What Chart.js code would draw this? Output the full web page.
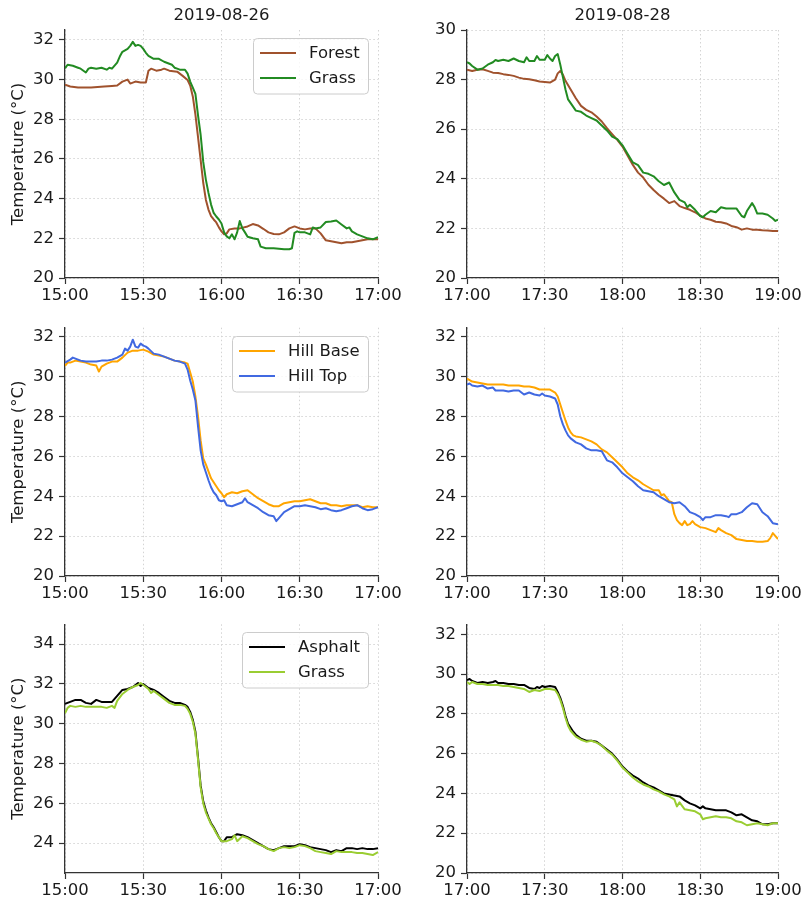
<!DOCTYPE html>
<html><head><meta charset="utf-8">
<script src="https://cdn.jsdelivr.net/npm/chart.js@4.4.0/dist/chart.umd.min.js"></script>
<style>
html,body{margin:0;padding:0;background:#fff;}
#wrap{position:relative;width:803px;height:901px;overflow:hidden;background:#fff;}
#wrap canvas{position:absolute;}
</style></head><body><div id="wrap"></div>
<script>
// ---- tick labels ----
const xTicks26 = ['15:00','15:30','16:00','16:30','17:00'];
const xTicks28 = ['17:00','17:30','18:00','18:30','19:00'];
const yTicksA = [20,22,24,26,28,30,32];
const yTicksB = [20,22,24,26,28,30];
const yTicksC = [24,26,28,30,32,34];
const titles = ['2019-08-26','2019-08-28'];

// ---- series: [minutes after start, °C] ----
const forest26 = [[0,29.74],[2,29.65],[5,29.6],[10,29.6],[15,29.65],[18,29.68],[20,29.7],[22,29.9],[24,30.0],[25,29.8],[27,29.9],[29,29.85],[31,29.85],[32,30.45],[33,30.55],[35,30.45],[37,30.5],[38,30.55],[40,30.45],[43,30.4],[45,30.2],[47,29.98],[48,29.7],[49,29.15],[50,28.23],[51,27.1],[52,25.95],[53,24.8],[54,23.95],[55,23.45],[56,23.12],[57,22.95],[58,22.8],[59,22.55],[60,22.35],[61,22.2],[62,22.25],[63,22.45],[65,22.5],[67,22.5],[70,22.6],[72,22.72],[74,22.65],[76,22.48],[78,22.3],[80,22.22],[82,22.2],[84,22.3],[86,22.5],[88,22.6],[90,22.5],[92,22.45],[94,22.5],[96,22.5],[98,22.25],[100,21.9],[102,21.85],[104,21.8],[106,21.75],[108,21.8],[110,21.8],[112,21.85],[114,21.9],[116,21.95],[118,21.95],[120,21.95]];
const grass26 = [[0,30.57],[1,30.75],[3,30.7],[5,30.6],[6,30.55],[8,30.36],[9,30.55],[10,30.6],[12,30.55],[14,30.6],[16,30.5],[17,30.6],[18,30.55],[20,30.86],[21,31.16],[22,31.4],[24,31.55],[25,31.7],[26,31.9],[27,31.7],[28,31.75],[29,31.7],[30,31.55],[31,31.35],[32,31.2],[34,31.05],[36,31.05],[38,30.9],[40,30.8],[41,30.75],[42,30.6],[43,30.55],[44,30.5],[46,30.5],[47,30.3],[48,29.9],[49,29.6],[50,29.28],[51,28.2],[52,27.22],[53,25.85],[54,24.96],[55,24.29],[56,23.7],[57,23.28],[58,23.1],[59,22.95],[60,22.75],[61,22.3],[62,22.1],[63,22.0],[64,22.2],[65,21.95],[66,22.3],[67,22.87],[68,22.5],[69,22.3],[70,22.08],[72,22.0],[74,21.95],[75,21.58],[77,21.5],[80,21.5],[84,21.45],[86,21.45],[87,21.5],[88,22.28],[89,22.35],[90,22.3],[92,22.3],[94,22.2],[95,22.55],[96,22.5],[98,22.55],[100,22.82],[102,22.85],[104,22.9],[106,22.7],[108,22.5],[109,22.55],[110,22.35],[112,22.2],[114,22.1],[116,22.0],[118,21.95],[120,22.06]];
const forest28 = [[0,28.4],[2,28.35],[4,28.4],[6,28.42],[8,28.35],[10,28.28],[12,28.27],[14,28.22],[16,28.19],[18,28.15],[20,28.08],[22,28.03],[24,28.01],[26,27.97],[28,27.92],[30,27.9],[32,27.88],[34,28.0],[35,28.25],[36,28.35],[37,28.2],[38,27.95],[40,27.6],[42,27.25],[44,26.94],[46,26.78],[48,26.68],[50,26.51],[52,26.31],[54,26.04],[56,25.8],[58,25.57],[60,25.3],[62,24.93],[64,24.56],[66,24.25],[68,24.05],[70,23.76],[72,23.55],[74,23.36],[76,23.2],[78,23.02],[80,23.1],[82,22.9],[84,22.82],[86,22.75],[88,22.65],[90,22.51],[92,22.4],[94,22.35],[96,22.27],[98,22.25],[100,22.2],[102,22.1],[104,22.05],[106,21.95],[108,22.0],[110,21.95],[112,21.95],[114,21.93],[116,21.92],[118,21.9],[120,21.9]];
const grass28 = [[0,28.7],[1,28.65],[2,28.55],[4,28.4],[6,28.45],[8,28.6],[10,28.7],[11,28.79],[12,28.75],[14,28.8],[16,28.75],[18,28.85],[20,28.75],[22,28.7],[23,28.9],[24,28.75],[26,28.75],[27,28.95],[28,28.8],[30,28.8],[31,28.99],[32,28.85],[33,28.75],[34,28.95],[35,29.03],[36,28.6],[37,28.1],[38,27.6],[39,27.2],[40,27.05],[42,26.75],[44,26.7],[46,26.55],[48,26.45],[50,26.35],[52,26.15],[54,25.95],[56,25.7],[58,25.6],[60,25.35],[62,25.0],[64,24.66],[66,24.55],[68,24.25],[70,24.2],[72,24.1],[74,23.9],[76,23.75],[78,23.85],[80,23.45],[82,23.15],[84,23.05],[85,22.85],[86,22.95],[88,22.75],[90,22.5],[91,22.45],[92,22.55],[94,22.7],[96,22.65],[98,22.85],[100,22.8],[102,22.8],[104,22.8],[106,22.5],[107,22.45],[108,22.7],[110,23.02],[111,22.85],[112,22.6],[114,22.6],[116,22.55],[118,22.4],[119,22.3],[120,22.35]];
const hillBase26 = [[0,30.53],[1,30.7],[2,30.7],[3,30.75],[4,30.8],[6,30.75],[8,30.7],[10,30.6],[12,30.55],[13,30.25],[14,30.5],[16,30.65],[18,30.75],[20,30.75],[22,30.95],[24,31.2],[26,31.3],[28,31.3],[30,31.35],[32,31.25],[34,31.1],[36,31.05],[38,31.0],[40,30.9],[42,30.8],[44,30.75],[46,30.7],[47,30.65],[48,30.2],[49,29.75],[50,29.0],[51,28.0],[52,26.8],[53,25.9],[54,25.6],[55,25.25],[56,24.9],[57,24.7],[58,24.5],[59,24.3],[60,24.15],[61,23.95],[62,24.1],[64,24.2],[66,24.15],[68,24.25],[70,24.3],[72,24.1],[74,23.9],[76,23.75],[78,23.6],[80,23.5],[82,23.5],[84,23.65],[86,23.7],[88,23.75],[90,23.75],[92,23.8],[94,23.85],[96,23.75],[98,23.65],[100,23.65],[102,23.55],[104,23.55],[106,23.5],[108,23.55],[110,23.55],[112,23.55],[114,23.45],[116,23.5],[118,23.45],[120,23.45]];
const hillTop26 = [[0,30.7],[2,30.85],[3,30.95],[4,30.9],[6,30.8],[8,30.75],[10,30.75],[12,30.75],[14,30.8],[16,30.8],[18,30.85],[20,30.95],[22,31.1],[23,31.4],[24,31.3],[25,31.5],[26,31.85],[27,31.5],[28,31.45],[29,31.65],[30,31.55],[31,31.5],[32,31.4],[34,31.15],[36,31.1],[38,31.0],[40,30.9],[42,30.8],[44,30.75],[46,30.65],[47,30.35],[48,29.8],[49,29.35],[50,28.8],[51,27.5],[52,26.3],[53,25.6],[54,25.2],[55,24.8],[56,24.45],[57,24.2],[58,24.05],[59,23.8],[60,23.75],[61,23.8],[62,23.55],[64,23.5],[66,23.6],[68,23.7],[69,23.9],[70,23.7],[72,23.55],[74,23.4],[76,23.2],[78,23.05],[80,23.0],[81,22.75],[82,22.9],[84,23.2],[86,23.35],[88,23.5],[90,23.5],[92,23.55],[94,23.5],[96,23.45],[98,23.35],[100,23.4],[102,23.3],[104,23.25],[106,23.3],[108,23.4],[110,23.5],[112,23.55],[114,23.4],[116,23.3],[118,23.35],[120,23.45]];
const hillBase28 = [[0,29.9],[2,29.75],[4,29.7],[6,29.65],[8,29.6],[10,29.6],[12,29.6],[14,29.6],[16,29.55],[18,29.55],[20,29.55],[22,29.5],[24,29.5],[26,29.45],[28,29.35],[30,29.35],[32,29.35],[34,29.2],[35,29.0],[36,28.6],[37,28.2],[38,27.8],[39,27.45],[40,27.2],[41,27.05],[42,27.0],[44,26.95],[46,26.85],[48,26.75],[50,26.6],[52,26.35],[54,26.2],[56,25.95],[58,25.7],[60,25.45],[62,25.15],[64,24.95],[66,24.8],[68,24.6],[70,24.45],[72,24.3],[74,24.3],[75,24.05],[76,24.1],[78,23.75],[79,23.7],[80,23.1],[81,22.8],[82,22.65],[83,22.55],[84,22.75],[85,22.55],[86,22.6],[87,22.75],[88,22.6],[90,22.45],[92,22.4],[94,22.3],[96,22.2],[97,22.4],[98,22.3],[100,22.15],[102,22.05],[104,21.85],[106,21.8],[108,21.75],[110,21.75],[112,21.72],[114,21.72],[116,21.75],[117,21.9],[118,22.15],[119,22.0],[120,21.85]];
const hillTop28 = [[0,29.6],[1,29.65],[2,29.55],[4,29.5],[6,29.55],[8,29.4],[10,29.45],[11,29.3],[12,29.3],[14,29.3],[16,29.25],[18,29.3],[20,29.3],[22,29.1],[24,29.2],[26,29.1],[28,29.05],[29,29.15],[30,29.05],[32,29.0],[34,28.9],[35,28.6],[36,28.0],[37,27.6],[38,27.3],[39,27.05],[40,26.9],[42,26.7],[44,26.6],[46,26.4],[48,26.3],[50,26.3],[52,26.25],[54,25.8],[56,25.7],[58,25.45],[60,25.15],[62,24.95],[64,24.75],[66,24.5],[68,24.3],[70,24.25],[72,24.2],[74,24.0],[76,23.85],[78,23.7],[80,23.65],[82,23.7],[84,23.5],[86,23.2],[88,23.1],[90,22.95],[91,22.8],[92,22.95],[94,22.95],[96,23.05],[98,23.05],[100,23.0],[101,22.95],[102,23.1],[104,23.1],[106,23.2],[108,23.45],[110,23.65],[112,23.6],[114,23.2],[116,23.0],[118,22.65],[120,22.6]];
const asphalt26 = [[0,31.0],[2,31.1],[4,31.2],[6,31.2],[8,31.05],[10,31.0],[12,31.2],[14,31.1],[16,31.1],[18,31.1],[20,31.4],[22,31.7],[24,31.75],[26,31.85],[28,32.05],[29,31.9],[30,32.0],[32,31.8],[34,31.7],[36,31.55],[38,31.35],[40,31.15],[42,31.05],[44,31.05],[46,30.95],[47,30.85],[48,30.6],[49,30.2],[50,29.6],[51,28.3],[52,26.9],[53,26.1],[54,25.65],[55,25.3],[56,25.0],[57,24.8],[58,24.55],[59,24.3],[60,24.1],[61,24.1],[62,24.3],[64,24.3],[66,24.45],[68,24.4],[70,24.3],[72,24.15],[74,24.0],[76,23.85],[78,23.7],[80,23.65],[82,23.75],[84,23.85],[86,23.85],[88,23.85],[90,23.95],[92,23.9],[94,23.8],[96,23.75],[98,23.7],[100,23.65],[102,23.55],[104,23.65],[106,23.6],[108,23.75],[110,23.75],[112,23.7],[114,23.75],[116,23.7],[118,23.7],[120,23.75]];
const grassB26 = [[0,30.53],[1,30.8],[2,30.9],[4,30.85],[6,30.9],[8,30.85],[10,30.85],[12,30.85],[14,30.85],[16,30.8],[18,30.9],[19,30.8],[20,31.15],[22,31.5],[24,31.7],[26,31.85],[28,31.95],[29,32.05],[30,31.95],[32,31.75],[33,31.55],[34,31.65],[36,31.45],[38,31.25],[40,31.05],[42,30.95],[44,30.95],[46,30.9],[47,30.75],[48,30.5],[49,30.1],[50,29.5],[51,28.2],[52,26.8],[53,26.0],[54,25.55],[55,25.25],[56,24.95],[57,24.75],[58,24.5],[59,24.3],[60,24.1],[62,24.1],[64,24.2],[65,24.4],[66,24.1],[68,24.35],[70,24.25],[72,24.1],[74,23.95],[76,23.85],[78,23.7],[80,23.6],[82,23.75],[84,23.8],[86,23.75],[88,23.8],[90,23.9],[92,23.85],[94,23.75],[96,23.6],[98,23.55],[100,23.5],[102,23.45],[104,23.6],[106,23.55],[108,23.55],[110,23.55],[112,23.5],[114,23.5],[116,23.45],[118,23.4],[120,23.55]];
const asphalt28 = [[0,29.7],[1,29.75],[2,29.65],[4,29.55],[6,29.6],[8,29.55],[10,29.6],[11,29.65],[12,29.55],[14,29.55],[16,29.5],[18,29.5],[20,29.45],[22,29.45],[24,29.3],[26,29.25],[27,29.35],[28,29.3],[29,29.4],[30,29.35],[32,29.4],[34,29.35],[35,29.1],[36,28.8],[37,28.4],[38,27.9],[39,27.5],[40,27.3],[41,27.1],[42,26.95],[44,26.75],[46,26.65],[48,26.65],[50,26.6],[52,26.4],[54,26.2],[56,26.0],[58,25.7],[60,25.35],[62,25.1],[64,24.9],[66,24.75],[68,24.55],[70,24.4],[72,24.3],[74,24.15],[76,24.0],[78,23.95],[80,23.9],[82,23.85],[84,23.65],[86,23.5],[88,23.4],[90,23.25],[91,23.35],[92,23.25],[94,23.2],[96,23.15],[98,23.15],[100,23.15],[102,23.05],[104,22.9],[106,22.95],[108,22.8],[110,22.65],[112,22.6],[114,22.45],[116,22.45],[118,22.5],[120,22.5]];
const grassB28 = [[0,29.6],[1,29.5],[2,29.6],[4,29.5],[6,29.5],[8,29.45],[10,29.45],[12,29.45],[14,29.4],[16,29.4],[18,29.35],[20,29.3],[22,29.25],[24,29.1],[26,29.2],[28,29.15],[30,29.25],[32,29.25],[34,29.2],[35,29.0],[36,28.7],[37,28.3],[38,27.8],[39,27.4],[40,27.15],[41,27.0],[42,26.85],[44,26.7],[46,26.6],[48,26.65],[50,26.55],[52,26.4],[54,26.15],[56,25.95],[58,25.65],[60,25.3],[62,25.05],[64,24.8],[66,24.6],[68,24.45],[70,24.35],[72,24.2],[74,24.1],[76,23.95],[78,23.85],[80,23.7],[81,23.35],[82,23.55],[84,23.2],[86,23.15],[88,23.1],[90,22.95],[91,22.7],[92,22.75],[94,22.8],[96,22.85],[98,22.8],[100,22.8],[102,22.75],[104,22.6],[106,22.55],[108,22.4],[110,22.45],[112,22.5],[114,22.45],[116,22.4],[118,22.5],[120,22.5]];

// ---- styling ----
const FONT = "'DejaVu Sans', sans-serif";
const FS = 16.5;
const TXT = '#1a1a1a';
const C = {forest:'#a0522d', grass:'#228b22', base:'#ffa500', top:'#4169e1', asphalt:'#000000', grassB:'#9acd32'};

const panels = [
  {l:0,   t:0,   w:403, h:310, pt:0,    pr:25, yW:65, xH:32, title:titles[0], yl:true,  ymin:20,   ymax:32.5,  yt:yTicksA, xt:xTicks26, leg:true,
   s:[['Forest',forest26,C.forest],['Grass',grass26,C.grass]]},
  {l:400, t:0,   w:403, h:310, pt:0,    pr:25, yW:67, xH:32, title:titles[1], yl:false, ymin:20,   ymax:30,    yt:yTicksB, xt:xTicks28, leg:false,
   s:[['Forest',forest28,C.forest],['Grass',grass28,C.grass]]},
  {l:0,   t:310, w:403, h:295, pt:17.7, pr:25, yW:65, xH:29, title:null, yl:true,  ymin:20,   ymax:32.45, yt:yTicksA, xt:xTicks26, leg:true,
   s:[['Hill Base',hillBase26,C.base],['Hill Top',hillTop26,C.top]]},
  {l:400, t:310, w:403, h:295, pt:17.7, pr:25, yW:67, xH:29, title:null, yl:false, ymin:20,   ymax:32.45, yt:yTicksA, xt:xTicks28, leg:false,
   s:[['Hill Base',hillBase28,C.base],['Hill Top',hillTop28,C.top]]},
  {l:0,   t:605, w:403, h:296, pt:19.3, pr:25, yW:65, xH:28, title:null, yl:true,  ymin:22.5, ymax:35,    yt:yTicksC, xt:xTicks26, leg:true,
   s:[['Asphalt',asphalt26,C.asphalt],['Grass',grassB26,C.grassB]]},
  {l:400, t:605, w:403, h:296, pt:19.3, pr:25, yW:67, xH:28, title:null, yl:false, ymin:20,   ymax:32.5,  yt:yTicksA, xt:xTicks28, leg:false,
   s:[['Asphalt',asphalt28,C.asphalt],['Grass',grassB28,C.grassB]]}
];

const boxLegend = {
  id:'boxLegend',
  afterDatasetsDraw(chart, args, opts){
    if(!opts.show) return;
    const ctx = chart.ctx, ca = chart.chartArea;
    ctx.save();
    ctx.font = FS + 'px ' + FONT;
    const items = chart.data.datasets.map(d => ({label:d.label, color:d.borderColor}));
    const tw = Math.max(...items.map(i => ctx.measureText(i.label).width));
    const w = Math.round(55.5 + tw + 9), h = 55.5;
    const x = Math.round(ca.right - 10 - w) + 0.5, y = Math.round(ca.top + 8) + 0.5;
    ctx.beginPath();
    ctx.roundRect(x, y, w, h, 4);
    ctx.fillStyle = 'rgba(255,255,255,0.8)';
    ctx.fill();
    ctx.strokeStyle = '#cccccc';
    ctx.lineWidth = 1;
    ctx.stroke();
    items.forEach((it,i) => {
      const cy = y + 14.5 + i*25;
      ctx.beginPath();
      ctx.moveTo(x+6.5, cy); ctx.lineTo(x+42.5, cy);
      ctx.strokeStyle = it.color; ctx.lineWidth = 2; ctx.stroke();
      ctx.fillStyle = TXT; ctx.textBaseline = 'middle'; ctx.textAlign = 'left';
      ctx.fillText(it.label, x+55.5, cy+1);
    });
    ctx.restore();
  }
};

const wrap = document.getElementById('wrap');
panels.forEach(p => {
  const cv = document.createElement('canvas');
  cv.width = p.w; cv.height = p.h;
  cv.style.left = p.l + 'px'; cv.style.top = p.t + 'px';
  cv.style.width = p.w + 'px'; cv.style.height = p.h + 'px';
  wrap.appendChild(cv);
  const gridOpts = {color:'#d4d4d4', lineWidth:1, tickLength:6, tickColor:'#333333', tickWidth:1.2, tickBorderDash:[]};
  const borderOpts = {display:true, color:'#333333', width:1.3, dash:[1.5,2.5]};
  new Chart(cv, {
    type:'line',
    data:{datasets: p.s.map((s,i) => ({
      label:s[0], data:s[1], borderColor:s[2], backgroundColor:s[2],
      borderWidth:2, pointRadius:0, tension:0, fill:false,
      borderJoinStyle:'round', order: 2 - i
    }))},
    options:{
      responsive:false, animation:false, devicePixelRatio:1,
      layout:{padding:{top:p.pt, right:p.pr, left:0, bottom:0}},
      plugins:{
        legend:{display:false}, tooltip:{enabled:false},
        title:{display:!!p.title, text:p.title || '', fullSize:false, color:TXT,
               font:{family:FONT, size:FS, weight:'normal'}, padding:{top:6, bottom:4.2}},
        boxLegend:{show:p.leg}
      },
      scales:{
        x:{
          type:'linear', min:0, max:120,
          afterFit(sc){ sc.height = p.xH; sc.paddingLeft = 0; sc.paddingRight = 0; },
          ticks:{stepSize:30, autoSkip:false, maxRotation:0, minRotation:0, padding:2, color:TXT,
                 font:{family:FONT, size:FS}, callback:(v) => { const k = v/30; return Number.isInteger(k) ? p.xt[k] : ''; }},
          grid:gridOpts, border:borderOpts
        },
        y:{
          type:'linear', min:p.ymin, max:p.ymax, bounds:'data',
          afterBuildTicks(sc){ sc.ticks = p.yt.map(v => ({value:v})); },
          afterFit(sc){ sc.width = p.yW; sc.paddingTop = 0; sc.paddingBottom = 0; },
          ticks:{stepSize:2, includeBounds:false, padding:5, color:TXT, font:{family:FONT, size:FS},
                 callback:(v) => String(v)},
          title:{display:p.yl, text:'Temperature (°C)', color:TXT, font:{family:FONT, size:FS}, padding:{top:8.5, bottom:0}},
          grid:gridOpts, border:borderOpts
        }
      }
    },
    plugins:[boxLegend]
  });
});
</script>
</body></html>
